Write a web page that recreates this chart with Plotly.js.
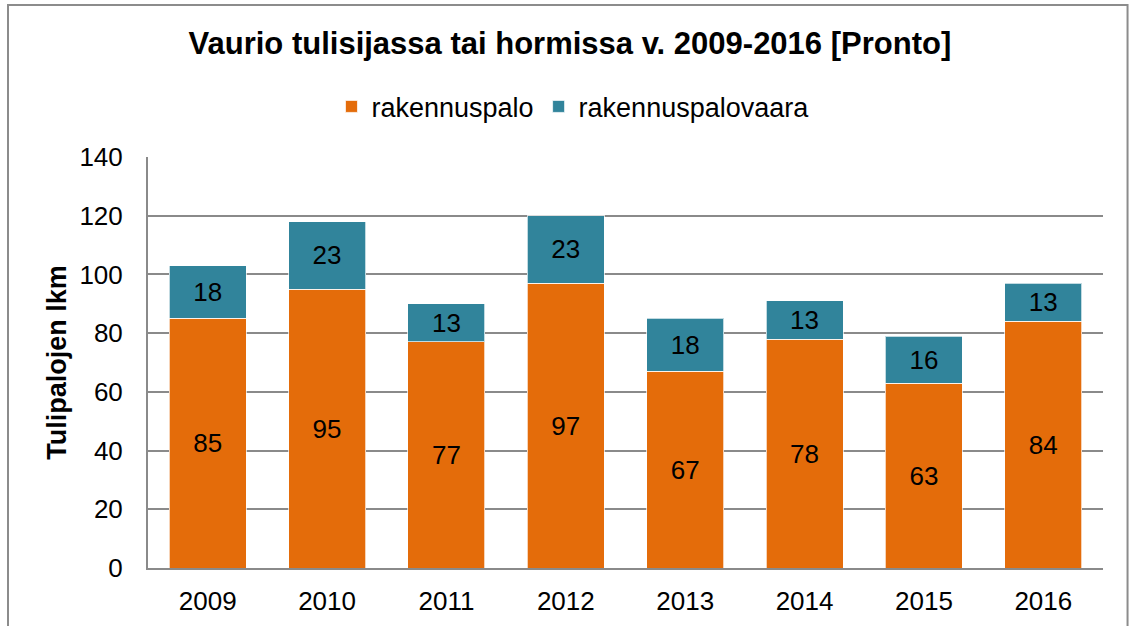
<!DOCTYPE html>
<html>
<head>
<meta charset="utf-8">
<script src="https://cdn.plot.ly/plotly-3.0.1.min.js"></script>
<style>html,body{margin:0;padding:0;background:#fff;}#chart{width:1133px;height:626px;}</style>
</head>
<body>
<div id="chart"></div>
<script>
const years = ["2009", "2010", "2011", "2012", "2013", "2014", "2015", "2016"];
const rakennuspalo = [85, 95, 77, 97, 67, 78, 63, 84];
const rakennuspalovaara = [18, 23, 13, 23, 18, 13, 16, 13];
const seriesNames = ["rakennuspalo", "rakennuspalovaara"];
const yTicks = [0, 20, 40, 60, 80, 100, 120, 140];

const FONT = "Liberation Sans, Arial, sans-serif";
const GRAY = "#8a8a8a";

const common = {
  type: "bar",
  x: years,
  textposition: "inside",
  insidetextanchor: "middle",
  texttemplate: "%{y}",
  textfont: {family: FONT, size: 26, color: "#000"},
  constraintext: "none",
  hoverinfo: "x+y+name"
};

const traces = [
  Object.assign({}, common, {
    name: seriesNames[0], y: rakennuspalo,
    marker: {color: "#E46C0A", line: {color: "rgba(255,255,255,0.7)", width: 1}}
  }),
  Object.assign({}, common, {
    name: seriesNames[1], y: rakennuspalovaara,
    marker: {color: "#31849B", line: {color: "rgba(255,255,255,0.7)", width: 1}}
  })
];

const layout = {
  width: 1133, height: 626,
  margin: {l: 148, r: 30, t: 157, b: 58},
  paper_bgcolor: "#fff", plot_bgcolor: "#fff",
  barmode: "stack",
  bargap: 0.355,
  font: {family: FONT, size: 26, color: "#000"},
  title: {
    text: "<b>Vaurio tulisijassa tai hormissa v. 2009-2016 [Pronto]</b>",
    font: {family: FONT, size: 31, color: "#000"},
    x: 0.503, xref: "container", xanchor: "center",
    y: 0.931, yref: "container", yanchor: "middle"
  },
  showlegend: true,
  legend: {
    orientation: "h", x: 0.445, xanchor: "center", y: 1.122, yanchor: "middle",
    font: {family: FONT, size: 27, color: "#000"},
    traceorder: "normal", itemwidth: 30
  },
  xaxis: {
    type: "category",
    showline: true, linecolor: GRAY, linewidth: 2,
    ticks: "", showgrid: false,
    tickfont: {family: FONT, size: 26, color: "#000"},
    ticklabelstandoff: 9
  },
  yaxis: {
    range: [0, 140], tickvals: yTicks, ticktext: yTicks.map(String),
    showline: true, linecolor: GRAY, linewidth: 2,
    showgrid: true, gridcolor: GRAY, gridwidth: 2,
    zeroline: false, ticks: "",
    tickfont: {family: FONT, size: 26, color: "#000"},
    ticklabelstandoff: 18
  },
  annotations: [{
    text: "<b>Tulipalojen lkm</b>", textangle: -90,
    xref: "paper", yref: "paper", x: -0.096, y: 0.5,
    xanchor: "center", yanchor: "middle", showarrow: false,
    font: {family: FONT, size: 27, color: "#000"}
  }],
  shapes: [{
    type: "rect", xref: "paper", yref: "paper",
    x0: -0.1466, x1: 1.0257, y0: -0.3, y1: 1.3698,
    line: {color: "#8c8c8c", width: 2}, fillcolor: "rgba(0,0,0,0)", layer: "below"
  }]
};

Plotly.newPlot("chart", traces, layout, {displayModeBar: false, staticPlot: true});
</script>
</body>
</html>
